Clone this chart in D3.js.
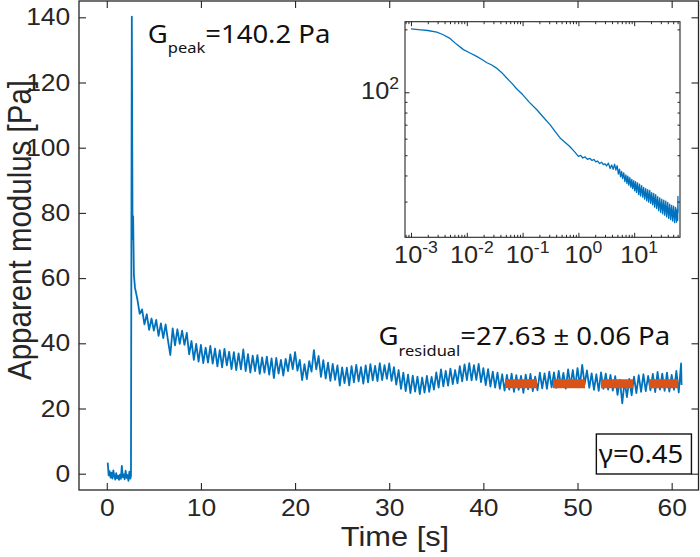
<!DOCTYPE html>
<html><head><meta charset="utf-8">
<script src="https://cdn.jsdelivr.net/npm/d3@7"></script>
<style>body{margin:0;background:#fff}svg{display:block}</style>
</head><body>
<svg id="chart" width="700" height="557"></svg>
<script>
// ---------------- data ----------------
const xTicks = [0, 10, 20, 30, 40, 50, 60];
const yTicks = [0, 20, 40, 60, 80, 100, 120, 140];

const timeS = [
  0.1,0.2,0.3,0.4,0.5,0.6,0.7,0.8,0.9,1.0,1.1,1.2,1.3,1.4,1.5,1.6,1.7,1.8,1.9,2.0,
  2.1,2.2,2.3,2.4,2.5,2.57,2.66,2.74,2.8,2.88,3.0,
  3.25,3.5,3.75,4,4.25,4.5,4.75,5,
  5.25,5.5,5.75,6,6.25,6.5,6.75,7,
  7.25,7.5,7.75,8,8.25,8.5,8.75,9,
  9.25,9.5,9.75,10,10.25,10.5,10.75,11,
  11.25,11.5,11.75,12,12.25,12.5,12.75,13,
  13.25,13.5,13.75,14,14.25,14.5,14.75,15,
  15.25,15.5,15.75,16,16.25,16.5,16.75,17,
  17.25,17.5,17.75,18,18.25,18.5,18.75,19,
  19.25,19.5,19.75,20,20.25,20.5,20.75,21,
  21.25,21.5,21.75,22,22.25,22.5,22.75,23,
  23.25,23.5,23.75,24,24.25,24.5,24.75,25,
  25.25,25.5,25.75,26,26.25,26.5,26.75,27,
  27.25,27.5,27.75,28,28.25,28.5,28.75,29,
  29.25,29.5,29.75,30,30.25,30.5,30.75,31,
  31.25,31.5,31.75,32,32.25,32.5,32.75,33,
  33.25,33.5,33.75,34,34.25,34.5,34.75,35,
  35.25,35.5,35.75,36,36.25,36.5,36.75,37,
  37.25,37.5,37.75,38,38.25,38.5,38.75,39,
  39.25,39.5,39.75,40,40.25,40.5,40.75,41,
  41.25,41.5,41.75,42,42.25,42.5,42.75,43,
  43.25,43.5,43.75,44,44.25,44.5,44.75,45,
  45.25,45.5,45.75,46,46.25,46.5,46.75,47,
  47.25,47.5,47.75,48,48.25,48.5,48.75,49,
  49.25,49.5,49.75,50,50.25,50.5,50.75,51,
  51.25,51.5,51.75,52,52.25,52.5,52.75,53,
  53.25,53.5,53.75,54,54.25,54.5,54.75,55,
  55.25,55.5,55.75,56,56.25,56.5,56.75,57,
  57.25,57.5,57.75,58,58.25,58.5,58.75,59,
  59.25,59.5,59.75,60,60.25,60.5,60.75,61,
  61.05
];

const modulusPa = [
  3.4,-0.5,0.8,-1.2,0.3,-1.5,1.0,-0.8,-1.8,0.2,-1.4,-0.6,-1.9,-0.3,-1.6,2.4,-1.1,-0.2,-1.7,0.9,
  -1.3,-0.4,-2.2,0.6,-1.5,-0.7,140.2,72,79,61,57,
  53.5,49.0,50.4,45.8,48.9,44.1,47.6,43.9,
  47.2,42.3,46.1,41.6,45.8,40.9,36.4,44.6,
  39.4,44.3,39.8,43.9,39.5,43.2,36.6,40.7,
  34.9,39.8,34.4,39.5,33.9,38.7,34.1,39.2,
  33.8,38.4,32.9,37.9,32.6,38.3,33.2,37.4,
  32.1,37.3,31.8,36.9,32.0,38.1,31.5,36.7,
  31.0,36.2,31.5,36.4,30.6,35.7,31.0,35.9,
  30.4,35.4,29.3,35.5,30.7,34.9,30.1,35.2,
  31.5,36.6,32.1,37.3,31.6,34.9,28.7,33.6,
  29.0,34.5,31.3,37.9,32.0,36.1,29.7,34.8,
  29.2,34.1,28.5,33.7,28.8,33.2,27.0,32.6,
  27.8,32.5,27.1,33.0,28.0,33.4,28.3,32.7,
  27.6,33.2,28.0,33.6,28.6,33.1,28.4,33.9,
  28.7,33.3,29.1,33.8,28.5,32.7,27.3,31.8,
  26.0,31.0,25.3,30.4,24.7,30.1,25.2,29.8,
  24.4,29.5,24.9,30.0,25.1,29.7,25.8,31.1,
  26.4,32.0,26.8,31.5,27.0,32.2,27.5,31.8,
  27.7,33.0,28.3,33.5,28.7,33.9,28.6,33.3,
  28.8,33.7,28.1,32.4,27.2,32.1,26.7,31.3,
  26.4,31.0,26.0,30.5,25.5,30.3,25.8,30.7,
  25.1,30.2,25.7,30.0,24.8,30.4,25.9,30.6,
  25.3,29.8,25.6,31.0,26.2,30.8,26.0,31.3,
  26.5,31.1,26.3,31.5,26.8,30.9,26.1,32.0,
  26.9,31.8,26.6,32.4,27.1,33.4,27.4,31.7,
  26.3,30.8,25.7,30.5,25.4,31.1,26.0,30.7,
  25.8,30.3,25.5,29.9,24.2,28.8,21.6,28.4,
  23.5,29.1,24.0,29.8,24.7,30.2,25.1,30.5,
  25.3,30.0,25.6,30.6,25.0,31.2,25.8,30.7,
  25.4,31.0,25.2,30.3,25.7,31.5,24.9,33.8,
  27.2
];

const residualValue = 27.63;
const residualSpan = [42.3, 60.7];

const insetLag = [
  0.001,0.0015,0.002,0.0029,0.0037,0.005,0.0065,0.0087,0.011,0.015,
  0.019,0.023,0.028,0.034,0.042,0.052,0.065,0.078,0.1,0.13,
  0.18,0.24,0.31,0.39,0.47,0.58,0.7,0.85,
  1.0,1.1,1.2,1.3,1.45,1.6,1.75,1.9,2.05,2.2,2.4,2.6,2.8,3.0,3.2,3.45,3.7,3.95,
  4.2,4.45,4.7,4.95,5.2,5.45,5.7,5.95,6.2,6.5,6.8,7.1,7.4,7.7,8.0,8.35,8.7,9.05,
  9.4,9.8,10.2,10.6,11.0,11.5,12.0,12.5,13.0,13.6,14.2,14.8,15.4,16.1,16.8,17.5,
  18.2,19.0,19.8,20.6,21.5,22.4,23.3,24.3,25.3,26.4,27.5,28.7,29.9,31.2,32.5,33.9,
  35.3,36.8,38.3,39.9,41.6,43.3,45.1,47.0,48.9,50.9,53.0,55.2,57.4,59.0,60.1,60.8,61.0
];
const insetModulus = [
  201,199,197.5,194,189,181,170,160,155,148.5,
  143,138.5,135,130.5,124.5,117,110,104,97.5,90,
  82.5,75.5,70,64.5,60.5,57.5,55,52,
  49.4,49.9,48.5,49.1,47.8,48.3,47.2,47.7,46.5,46.9,45.6,46.3,45.1,45.5,44.4,45.8,43.2,44.9,
  42.8,45.3,42.4,44.6,40.6,42.9,39.4,41.8,38.6,41.2,37.4,40.3,36.6,39.7,35.9,39.1,35.2,38.3,
  34.6,37.8,33.8,37.4,33.2,36.9,32.4,36.3,31.9,35.8,31.5,35.1,30.8,34.6,30.2,34.2,
  29.8,33.9,29.4,33.1,28.9,32.8,28.2,32.4,27.8,31.7,27.1,31.2,26.6,30.8,26.2,30.5,
  25.8,30.1,25.3,29.7,24.9,29.2,24.6,28.8,24.2,28.5,23.8,28.1,23.9,27.6,24.4,31.8,26.5
];
const insetXTickExp = [-3, -2, -1, 0, 1];
const insetYTickValues = [100];
const insetYTickLabels = [["10", "2"]];

const xLabel = "Time [s]";
const yLabel = "Apparent modulus [Pa]";
const peakText = ["G", "peak", "=140.2 Pa"];
const residualText = ["G", "residual", "=27.63 \u00b1 0.06 Pa"];
const gammaText = "\u03b3=0.45";

// ---------------- drawing ----------------
const svg = d3.select("#chart");
const AX = "#262626";
const BLUE = "#0072BD";
const ORANGE = "#D95319";
const SX = 1.1;
const TF = "'Liberation Sans', Arial, Helvetica, sans-serif";
const AF = "'Noto Sans', 'Open Sans', sans-serif";

const M = {left: 79, right: 698.5, top: 1, bottom: 490};
const x = d3.scaleLinear().domain([-2.95, 62.85]).range([M.left, M.right]);
const y = d3.scaleLinear().domain([-5, 145]).range([M.bottom, M.top]);

svg.append("rect").attr("width", 700).attr("height", 557).attr("fill", "#fff");

// main curve
const line = d3.line().x((d, i) => x(timeS[i])).y(d => y(d));
svg.append("path").datum(modulusPa)
  .attr("d", line).attr("fill", "none")
  .attr("stroke", BLUE).attr("stroke-width", 1.8).attr("stroke-linejoin", "round");

// residual fit dashed line
svg.append("line")
  .attr("x1", x(residualSpan[0])).attr("x2", x(residualSpan[1]))
  .attr("y1", y(residualValue)).attr("y2", y(residualValue))
  .attr("stroke", ORANGE).attr("stroke-width", 9).attr("stroke-dasharray", "32,16");

// axes
function styleTicks(g, withText) {
  g.select(".domain").remove();
  g.selectAll(".tick line").attr("stroke", AX).attr("stroke-width", 1.1);
  if (withText) {
    g.attr("font-family", TF).attr("font-size", 24);
    g.selectAll(".tick text").attr("fill", AX).attr("transform", `scale(${SX},1)`);
  }
}
const gB = svg.append("g").attr("transform", `translate(0,${M.bottom})`)
  .call(d3.axisBottom(x).tickValues(xTicks).tickSizeInner(-7).tickSizeOuter(0).tickPadding(9));
styleTicks(gB, true);
const gT = svg.append("g").attr("transform", `translate(0,${M.top})`)
  .call(d3.axisTop(x).tickValues(xTicks).tickSizeInner(-7).tickSizeOuter(0).tickFormat(""));
styleTicks(gT, false);
const gL = svg.append("g").attr("transform", `translate(${M.left},0)`)
  .call(d3.axisLeft(y).tickValues(yTicks).tickSizeInner(-7).tickSizeOuter(0).tickPadding(8));
styleTicks(gL, true);
const gR = svg.append("g").attr("transform", `translate(${M.right},0)`)
  .call(d3.axisRight(y).tickValues(yTicks).tickSizeInner(-7).tickSizeOuter(0).tickFormat(""));
styleTicks(gR, false);

svg.append("rect").attr("x", M.left).attr("y", M.top)
  .attr("width", M.right - M.left).attr("height", M.bottom - M.top)
  .attr("fill", "none").attr("stroke", AX).attr("stroke-width", 1.3);

// axis labels
svg.append("text").attr("transform", `translate(395,546) scale(${SX},1)`)
  .attr("text-anchor", "middle").attr("font-family", TF).attr("font-size", 28)
  .attr("fill", AX).text(xLabel);
svg.append("text").attr("transform", `translate(31,230) scale(${SX},1) rotate(-90)`)
  .attr("text-anchor", "middle").attr("font-family", TF).attr("font-size", 29.5)
  .attr("fill", AX).text(yLabel);

// annotations
function subText(px, py, parts, big, small, shift) {
  const t = svg.append("text").attr("transform", `translate(${px},${py}) scale(${SX},1)`)
    .attr("font-family", AF).attr("font-size", big).attr("fill", "#111");
  t.append("tspan").text(parts[0]);
  t.append("tspan").attr("font-size", small).attr("dy", shift).text(parts[1]);
  t.append("tspan").attr("dy", -shift).text(parts[2]);
}
subText(x(4.35), y(132.0), peakText, 25, 15, 10);
subText(x(28.87), y(39.48), residualText, 25, 15, 11);

// gamma box
const gx0 = x(52.0), gx1 = x(62.1), gy0 = y(12.18), gy1 = y(-0.09);
svg.append("rect").attr("x", gx0).attr("y", gy0).attr("width", gx1 - gx0).attr("height", gy1 - gy0)
  .attr("fill", "#fff").attr("stroke", "#111").attr("stroke-width", 1.4);
svg.append("text").attr("transform", `translate(${gx0 + 2.5},${y(3.3)}) scale(${SX},1)`)
  .attr("font-family", AF).attr("font-size", 25).attr("fill", "#111").text(gammaText);

// ---------------- inset ----------------
const I = {left: 405, right: 680, top: 21.7, bottom: 237.3};
const xi = d3.scaleLog().domain([Math.pow(10, -3.1075), Math.pow(10, 1.8208)]).range([I.left, I.right]);
const yi = d3.scaleLog().domain([20.24, 217.6]).range([I.bottom, I.top]);

svg.append("rect").attr("x", I.left).attr("y", I.top)
  .attr("width", I.right - I.left).attr("height", I.bottom - I.top).attr("fill", "#fff");

svg.append("clipPath").attr("id", "insetClip").append("rect")
  .attr("x", I.left).attr("y", I.top).attr("width", I.right - I.left).attr("height", I.bottom - I.top);
const iline = d3.line().x((d, i) => xi(insetLag[i])).y(d => yi(d));
svg.append("path").datum(insetModulus).attr("clip-path", "url(#insetClip)")
  .attr("d", iline).attr("fill", "none").attr("stroke", BLUE)
  .attr("stroke-width", 1.3).attr("stroke-linejoin", "round");

// inset ticks
const xMinor = [], xMajor = [];
for (let e = -4; e <= 2; e++) for (let m = 1; m <= 9; m++) {
  const v = m * Math.pow(10, e);
  if (v >= xi.domain()[0] && v <= xi.domain()[1]) (m === 1 ? xMajor : xMinor).push(v);
}
const yMinor = [], yMajor = [];
for (let e = 1; e <= 2; e++) for (let m = 1; m <= 9; m++) {
  const v = m * Math.pow(10, e);
  if (v >= yi.domain()[0] && v <= yi.domain()[1]) (m === 1 ? yMajor : yMinor).push(v);
}
function tickSet(axisFn, scale, vals, len, tr) {
  const g = svg.append("g").attr("transform", tr)
    .call(axisFn(scale).tickValues(vals).tickSizeInner(-len).tickSizeOuter(0).tickFormat(""));
  styleTicks(g, false);
  g.selectAll(".tick line").attr("stroke-width", 1);
}
tickSet(d3.axisBottom, xi, xMinor, 2.5, `translate(0,${I.bottom})`);
tickSet(d3.axisBottom, xi, xMajor, 4.5, `translate(0,${I.bottom})`);
tickSet(d3.axisTop, xi, xMinor, 2.5, `translate(0,${I.top})`);
tickSet(d3.axisTop, xi, xMajor, 4.5, `translate(0,${I.top})`);
tickSet(d3.axisLeft, yi, yMinor, 2.5, `translate(${I.left},0)`);
tickSet(d3.axisLeft, yi, yMajor, 4.5, `translate(${I.left},0)`);
tickSet(d3.axisRight, yi, yMinor, 2.5, `translate(${I.right},0)`);
tickSet(d3.axisRight, yi, yMajor, 4.5, `translate(${I.right},0)`);

svg.append("rect").attr("x", I.left).attr("y", I.top)
  .attr("width", I.right - I.left).attr("height", I.bottom - I.top)
  .attr("fill", "none").attr("stroke", AX).attr("stroke-width", 1.1);

// inset tick labels
insetXTickExp.forEach(e => {
  const t = svg.append("text")
    .attr("transform", `translate(${xi(Math.pow(10, e)) + 5},${I.bottom + 26}) scale(${SX},1)`)
    .attr("text-anchor", "middle").attr("font-family", TF).attr("font-size", 23).attr("fill", AX);
  t.append("tspan").text("10");
  t.append("tspan").attr("font-size", 16).attr("dy", -10).text(e < 0 ? "-" + Math.abs(e) : String(e));
});
insetYTickValues.forEach((v, k) => {
  const t = svg.append("text")
    .attr("transform", `translate(${I.left - 6},${yi(v) + 7}) scale(${SX},1)`)
    .attr("text-anchor", "end").attr("font-family", TF).attr("font-size", 23).attr("fill", AX);
  t.append("tspan").text(insetYTickLabels[k][0]);
  t.append("tspan").attr("font-size", 16).attr("dy", -10).text(insetYTickLabels[k][1]);
});
</script>
</body></html>
